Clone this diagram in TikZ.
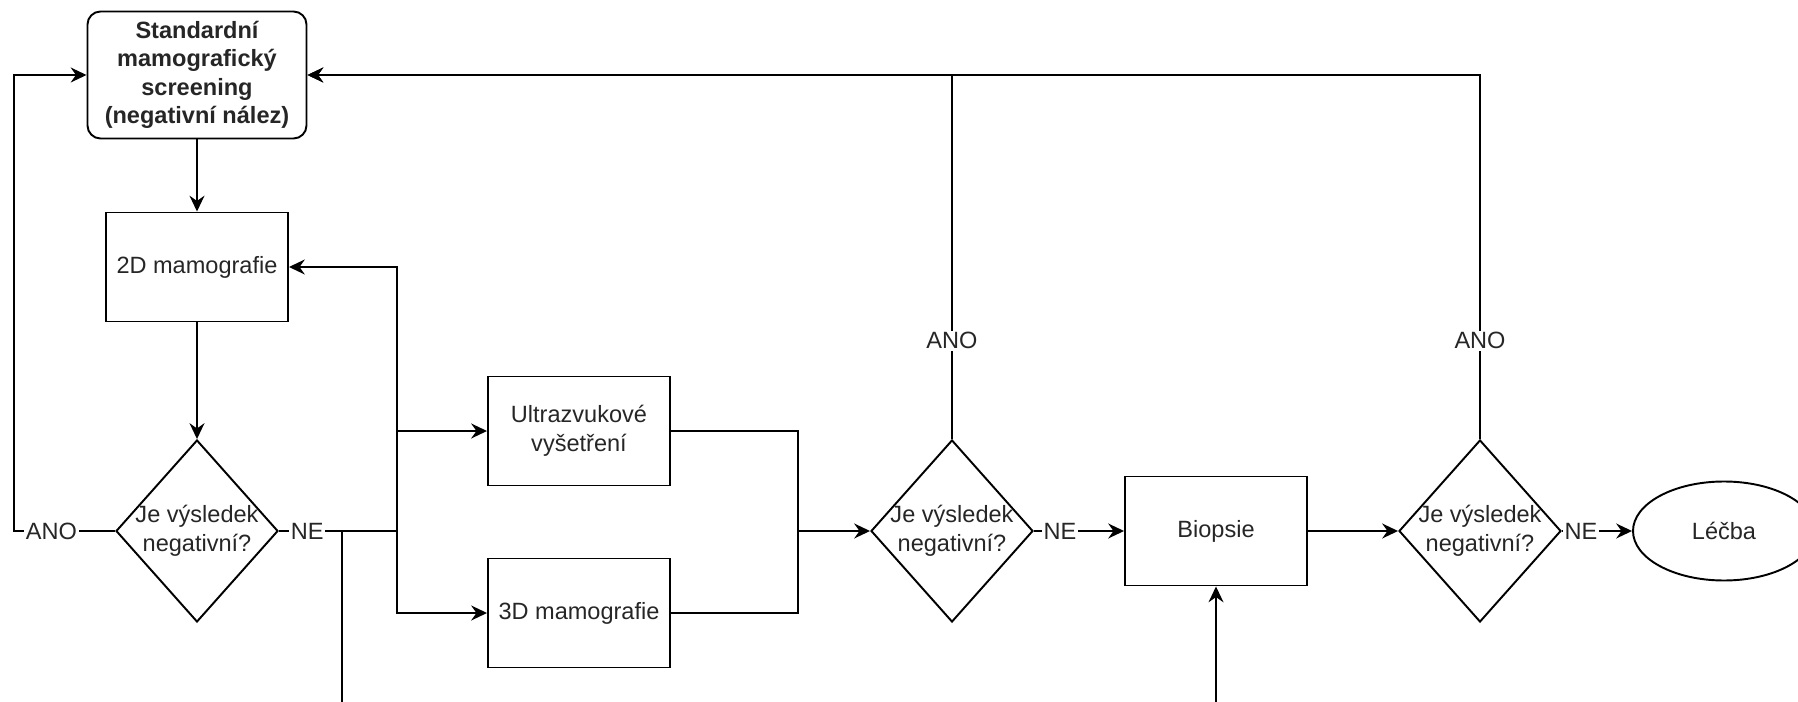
\documentclass[tikz,border=0pt]{standalone}
\usepackage{fontspec}
\setmainfont{Liberation Sans}
\usetikzlibrary{arrows.meta,shapes.geometric}
\newcommand{\diafont}{\fontsize{13.4}{16.2}\selectfont}
\tikzset{
  proc/.style={draw, line width=1.1pt, minimum width=3.64cm, minimum height=2.18cm, align=center},
  term/.style={proc, rounded corners=0.26cm, minimum width=4.38cm, minimum height=2.54cm, font=\diafont\bfseries},
  decision/.style={diamond, draw, line width=1.1pt, minimum width=3.24cm, minimum height=3.64cm, inner sep=-3pt, shape aspect=0.89, align=center},
  finish/.style={ellipse, draw, line width=1.1pt, minimum width=3.64cm, minimum height=1.98cm},
  conn/.style={line width=1.1pt},
  flow/.style={conn, -{Stealth[length=9pt,width=8.5pt,inset=3pt]}},
  lbl/.style={fill=white, inner sep=1pt}
}

\begin{document}
\begin{tikzpicture}[every node/.style={font=\diafont, text=black!85}]
  \useasboundingbox (0,0) rectangle (35.96,14.02);
  \clip (0,0) rectangle (35.96,14.02);

  % steps
  \node[term] (screen) at (3.94,12.52) {Standardní\\mamografický\\screening\\(negativní nález)};
  \node[proc] (mamo2d) at (3.94,8.68) {2D mamografie};
  \node[decision] (dec1) at (3.94,3.40) {Je výsledek\\negativní?};
  \node[proc] (usg) at (11.58,5.40) {Ultrazvukové\\vyšetření};
  \node[proc] (mamo3d) at (11.58,1.76) {3D mamografie};
  \node[decision] (dec2) at (19.04,3.40) {Je výsledek\\negativní?};
  \node[proc] (biopsy) at (24.32,3.40) {Biopsie};
  \node[decision] (dec3) at (29.60,3.40) {Je výsledek\\negativní?};
  \node[finish] (therapy) at (34.48,3.40) {Léčba};

  % bends of the connectors
  \coordinate (loop) at (0.28,3.40);
  \coordinate (split) at (7.94,3.40);
  \coordinate (drop) at (6.84,3.40);
  \coordinate (floor) at (6.84,-0.4);
  \coordinate (merge) at (15.96,3.40);

  % main line
  \draw[flow] (screen) -- (mamo2d);
  \draw[flow] (mamo2d) -- (dec1);
  \draw[flow] (dec1.west) -- node[lbl,pos=0.63]{ANO} (loop) |- (screen.west);
  \draw[conn] (dec1.east) -- node[lbl,pos=0.24]{NE} (split);
  \draw[flow] (split) |- (usg.west);
  \draw[flow] (split) |- (mamo3d.west);
  \draw[flow] (split) |- (mamo2d.east);
  \draw[flow] (drop) -- (floor) -| (biopsy.south);

  % second check
  \draw[conn] (usg.east) -| (merge);
  \draw[conn] (mamo3d.east) -| (merge);
  \draw[flow] (merge) -- (dec2.west);
  \draw[flow] (dec2.east) -- node[lbl,pos=0.29]{NE} (biopsy.west);
  \draw[flow] (dec2.north) -- node[lbl,pos=0.27]{ANO} (dec2.north |- screen.east) -- (screen.east);

  % biopsy result
  \draw[flow] (biopsy) -- (dec3);
  \draw[flow] (dec3.east) -- node[lbl,pos=0.27]{NE} (therapy.west);
  \draw[flow] (dec3.north) -- node[lbl,pos=0.27]{ANO} (dec3.north |- screen.east) -- (screen.east);
\end{tikzpicture}
\end{document}
